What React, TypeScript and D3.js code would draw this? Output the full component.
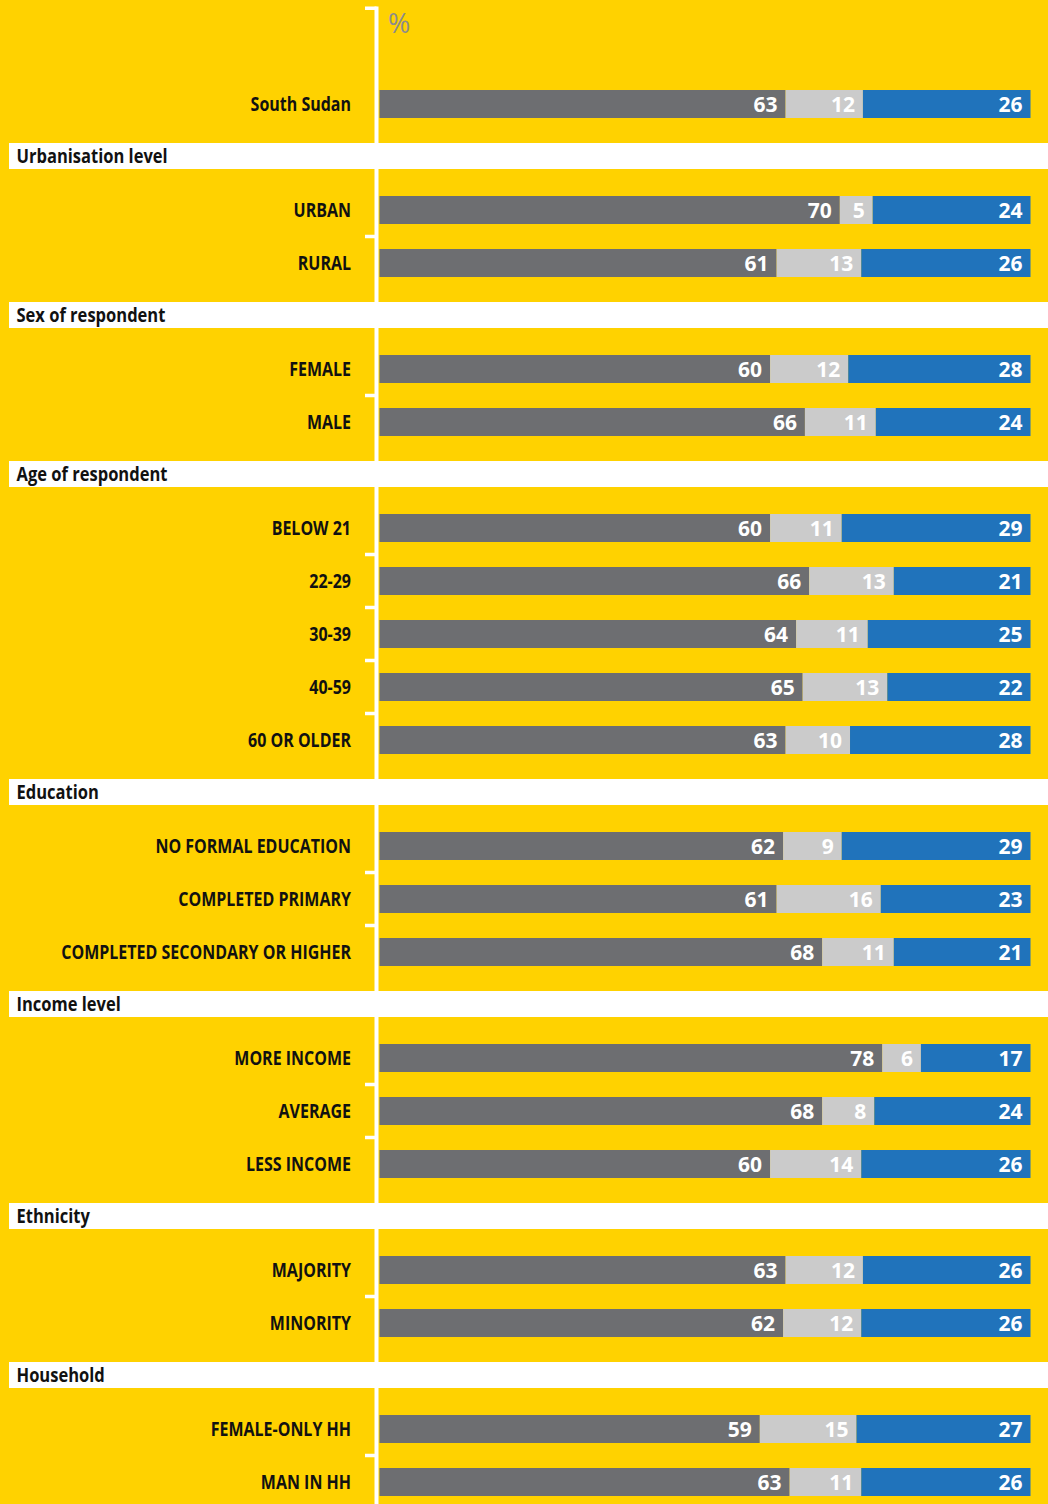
import React from "react";
import * as d3 from "d3";

const headers = [
  "Urbanisation level",
  "Sex of respondent",
  "Age of respondent",
  "Education",
  "Income level",
  "Ethnicity",
  "Household",
];
const categories = [
  "South Sudan",
  "URBAN", "RURAL",
  "FEMALE", "MALE",
  "BELOW 21", "22-29", "30-39", "40-59", "60 OR OLDER",
  "NO FORMAL EDUCATION", "COMPLETED PRIMARY", "COMPLETED SECONDARY OR HIGHER",
  "MORE INCOME", "AVERAGE", "LESS INCOME",
  "MAJORITY", "MINORITY",
  "FEMALE-ONLY HH", "MAN IN HH",
];
const groupIndex = [-1, 0, 0, 1, 1, 2, 2, 2, 2, 2, 3, 3, 3, 4, 4, 4, 5, 5, 6, 6];
const grayValues = [63, 70, 61, 60, 66, 60, 66, 64, 65, 63, 62, 61, 68, 78, 68, 60, 63, 62, 59, 63];
const lightValues = [12, 5, 13, 12, 11, 11, 13, 11, 13, 10, 9, 16, 11, 6, 8, 14, 12, 12, 15, 11];
const blueValues = [26, 24, 26, 28, 24, 29, 21, 25, 22, 28, 29, 23, 21, 17, 24, 26, 26, 26, 27, 26];

const KEYS = ["gray", "light", "blue"];
const COLORS: Record<string, string> = { gray: "#6D6E71", light: "#CBCBCB", blue: "#2073BB" };
const YELLOW = "#FFD200";
const W = 1048;
const H = 1504;
const FONT = "'Open Sans', 'Noto Sans', sans-serif";

export default function App() {
  const rows = categories.map((c, i) => ({
    cat: c,
    group: groupIndex[i],
    gray: grayValues[i],
    light: lightValues[i],
    blue: blueValues[i],
  }));

  // vertical layout
  const firstY = 104, gapBefore = 39, gapAfter = 41, band = 26, step = 53;
  const rowY: number[] = [];
  const headerTop: number[] = [];
  rows.forEach((r, i) => {
    if (i === 0) { rowY.push(firstY); return; }
    if (r.group !== rows[i - 1].group) {
      const top = rowY[i - 1] + gapBefore;
      headerTop[r.group] = top;
      rowY.push(top + band + gapAfter);
    } else {
      rowY.push(rowY[i - 1] + step);
    }
  });

  const x = d3.scaleLinear().domain([0, 1]).range([379.5, 1030.5]);
  const stack = d3.stack<any>().keys(KEYS).offset(d3.stackOffsetExpand);
  const series = stack(rows as any);
  const barH = 28;

  const axisX = 376.5;
  const ticks: number[] = [];
  rows.forEach((r, i) => {
    if (i > 0 && r.group === rows[i - 1].group) ticks.push((rowY[i] + rowY[i - 1]) / 2);
  });

  return (
    <svg
      width={W}
      height={H}
      style={{ position: "absolute", left: 0, top: 0, display: "block" }}
      fontFamily={FONT}
    >
      <rect x={0} y={0} width={W} height={H} fill={YELLOW} />
      {headers.map((h, g) => (
        <g key={h}>
          <rect x={9} y={headerTop[g]} width={W - 9} height={band} fill="#fff" />
          <text
            transform={`translate(16.5, ${headerTop[g] + 19.5}) scale(0.87,1)`}
            fontSize={19}
            fontWeight={700}
            fill="#111"
          >
            {h}
          </text>
        </g>
      ))}
      {/* axis */}
      <rect x={axisX - 2} y={6.5} width={4} height={H} fill="#fff" />
      <rect x={365} y={6.5} width={axisX - 365} height={3.5} fill="#fff" />
      {ticks.map((t, i) => (
        <rect key={i} x={365} y={t - 1.75} width={axisX - 365} height={3.5} fill="#fff" />
      ))}
      <text x={388} y={33} fontSize={27} fill="#8C8C8C" fontWeight={400}>%</text>

      {/* category labels */}
      {rows.map((r, i) => (
        <text
          key={r.cat}
          transform={`translate(351, ${rowY[i] + 7}) scale(0.82,1)`}
          textAnchor="end"
          fontSize={19.5}
          fontWeight={700}
          fill="#111"
        >
          {r.cat}
        </text>
      ))}

      {/* bars */}
      {series.map((s) => (
        <g key={s.key} fill={COLORS[s.key]}>
          {s.map((d, i) => (
            <rect
              key={i}
              x={x(d[0])}
              y={rowY[i] - barH / 2}
              width={x(d[1]) - x(d[0])}
              height={barH}
            />
          ))}
        </g>
      ))}
      {series.map((s) => (
        <g key={s.key + "t"}>
          {s.map((d, i) => (
            <text
              key={i}
              x={x(d[1]) - 8}
              y={rowY[i] + 7.5}
              textAnchor="end"
              fontSize={21}
              fontWeight={700}
              fill="#fff"
            >
              {(rows[i] as any)[s.key]}
            </text>
          ))}
        </g>
      ))}
    </svg>
  );
}
